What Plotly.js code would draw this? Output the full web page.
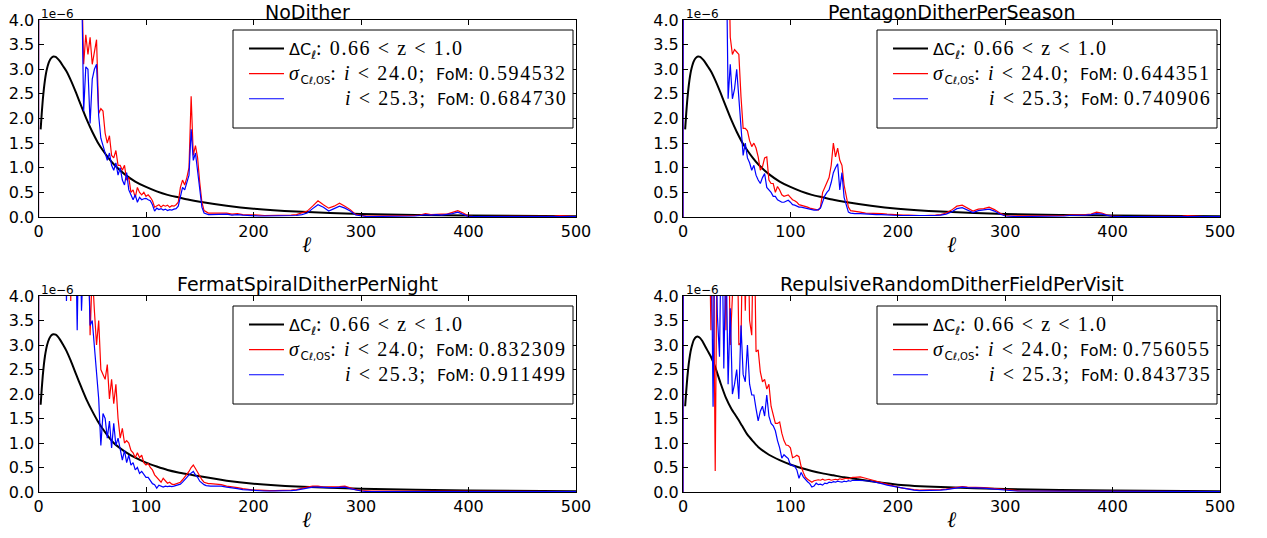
<!DOCTYPE html>
<html><head><meta charset="utf-8">
<script src="https://cdn.plot.ly/plotly-3.0.1.min.js"></script>
<style>html,body{margin:0;padding:0;background:#fff;}</style>
</head><body>
<div id="chart" style="width:1267px;height:538px"></div>
<script>
const panelTitles = ["NoDither", "PentagonDitherPerSeason", "FermatSpiralDitherPerNight", "RepulsiveRandomDitherFieldPerVisit"];
const fomRed  = ["0.594532", "0.644351", "0.832309", "0.756055"];
const fomBlue = ["0.684730", "0.740906", "0.911499", "0.843735"];
const xTicks = [0, 100, 200, 300, 400, 500];
const yTicks = [0, 0.5, 1, 1.5, 2, 2.5, 3, 3.5, 4];

// multipole grid for the noisy curves (values in units of 1e-6)
const ellLow = [0, 1, 20,
  24, 26, 28, 30, 32, 34, 36, 38, 40, 42,
  44, 46, 48, 50, 52, 54, 56, 58, 60, 62,
  64, 66, 68, 70, 72, 74, 76, 78, 80, 82,
  84, 86, 88, 90, 92, 94, 96, 98, 100, 102,
  104, 106, 108, 110, 112, 114, 116, 118, 120, 122,
  124, 126, 128, 130, 132, 134, 136, 138, 140, 142,
  144, 146, 148, 150, 152, 154, 156, 158, 160];
const ellTail = [165, 170, 175, 180, 185, 190, 195, 200, 205, 210,
  215, 220, 225, 230, 235, 240, 245, 250, 255, 260,
  265, 270, 275, 280, 285, 290, 295, 300, 305, 310,
  315, 320, 325, 330, 335, 340, 345, 350, 355, 360,
  365, 370, 375, 380, 385, 390, 395, 400, 405, 410,
  415, 420, 425, 430, 435, 440, 445, 450, 455, 460,
  465, 470, 475, 480, 485, 490, 495, 500];

// black Delta C_ell curves
const ellBlack = [2, 3, 4, 5, 6, 7, 8, 10, 12, 14, 16, 18, 20, 23, 26, 30, 35, 40, 45, 50, 55, 60, 65, 70, 80, 90, 100, 110, 120, 130, 140, 150, 175, 200, 240, 300, 400, 500];
const dclTop = [1.78, 2.1, 2.38, 2.6, 2.78, 2.92, 3.02, 3.16, 3.23, 3.26, 3.25, 3.21, 3.16, 3.06, 2.96, 2.78, 2.52, 2.24, 1.97, 1.73, 1.52, 1.35, 1.2, 1.07, 0.87, 0.72, 0.61, 0.52, 0.45, 0.4, 0.35, 0.31, 0.23, 0.17, 0.11, 0.06, 0.03, 0.015];
const dclBL = [1.78, 2.1, 2.38, 2.6, 2.77, 2.9, 3.0, 3.13, 3.2, 3.22, 3.21, 3.17, 3.11, 3.0, 2.88, 2.68, 2.4, 2.13, 1.87, 1.65, 1.45, 1.28, 1.13, 1.0, 0.83, 0.7, 0.6, 0.52, 0.45, 0.4, 0.36, 0.32, 0.23, 0.17, 0.11, 0.065, 0.03, 0.015];
const dclBR = [1.75, 2.05, 2.33, 2.55, 2.72, 2.86, 2.96, 3.1, 3.16, 3.17, 3.14, 3.08, 3.0, 2.88, 2.76, 2.55, 2.22, 1.92, 1.7, 1.53, 1.35, 1.17, 1.04, 0.92, 0.76, 0.65, 0.56, 0.49, 0.43, 0.38, 0.34, 0.3, 0.22, 0.15, 0.1, 0.06, 0.03, 0.015];

// NoDither
const ndRedLow = [0, 30, 12,
  10, 9, 8, 7.5, 7, 6.5, 6, 5.5, 5, 3.1,
  3.7, 3.3, 3.65, 3.1, 3.4, 3.6, 2.1, 2.2, 2.15, 1.7,
  1.5, 1.65, 1.25, 1.2, 1.35, 1.05, 1.05, 0.95, 1.05, 0.75,
  0.8, 0.5, 0.55, 0.4, 0.6, 0.5, 0.45, 0.5, 0.42, 0.45,
  0.4, 0.33, 0.2, 0.22, 0.25, 0.2, 0.24, 0.22, 0.24, 0.2,
  0.23, 0.22, 0.25, 0.3, 0.6, 0.75, 0.65, 0.8, 1.0, 2.45,
  1.25, 1.45, 1.2, 0.7, 0.3, 0.13, 0.1, 0.08, 0.08];
const ndRedTail = [0.08, 0.07, 0.08, 0.06, 0.07, 0.05, 0.05, 0.04, 0.04, 0.03,
  0.03, 0.03, 0.03, 0.03, 0.04, 0.05, 0.08, 0.12, 0.22, 0.33,
  0.25, 0.18, 0.22, 0.28, 0.22, 0.15, 0.05, 0.03, 0.02, 0.02,
  0.02, 0.02, 0.02, 0.02, 0.02, 0.02, 0.03, 0.03, 0.04, 0.07,
  0.05, 0.06, 0.06, 0.06, 0.09, 0.13, 0.08, 0.02, 0.01, 0.01,
  0.01, 0.01, 0.01, 0.01, 0.01, 0.01, 0.01, 0.01, 0.01, 0.01,
  0.01, 0.02, 0.02, 0.02, 0.03, 0.02, 0.01, 0.01];
const ndBlueLow = [0, 30, 12,
  10, 9, 8, 7.5, 7, 6.5, 6, 5.5, 5, 2.15,
  3.05, 3.0, 1.9, 2.8, 3.0, 3.1, 2.05, 1.6, 1.45, 1.3,
  1.15, 1.3, 1.05, 0.95, 1.1, 0.85, 1.0, 0.75, 0.65, 0.9,
  0.55, 0.45, 0.35, 0.45, 0.3, 0.4, 0.35, 0.37, 0.38, 0.35,
  0.33, 0.25, 0.12, 0.18, 0.15, 0.17, 0.14, 0.16, 0.13, 0.15,
  0.14, 0.16, 0.17, 0.22, 0.45, 0.6, 0.55, 0.7, 0.85, 1.78,
  1.15, 1.3, 0.95, 0.6, 0.2, 0.08, 0.06, 0.05, 0.05];
const ndBlueTail = [0.05, 0.05, 0.06, 0.04, 0.05, 0.04, 0.03, 0.03, 0.02, 0.02,
  0.02, 0.02, 0.02, 0.02, 0.02, 0.03, 0.05, 0.08, 0.17, 0.25,
  0.2, 0.12, 0.17, 0.22, 0.18, 0.12, 0.04, 0.02, 0.01, 0.01,
  0.01, 0.01, 0.01, 0.01, 0.01, 0.01, 0.02, 0.02, 0.03, 0.05,
  0.04, 0.05, 0.04, 0.05, 0.07, 0.1, 0.06, 0.01, 0.01, 0.01,
  0.01, 0.01, 0.01, 0.01, 0.01, 0.01, 0.01, 0.01, 0.01, 0.01,
  0.01, 0.01, 0.02, 0.02, 0.02, 0.02, 0.01, 0.01];

// PentagonDitherPerSeason
const pdRedLow = [0, 30, 12,
  10, 9, 8, 7.5, 7, 6.5, 6, 5.5, 5, 6,
  3.65, 3.3, 3.4, 3.35, 3.3, 2.44, 1.8, 1.8, 1.75, 1.55,
  1.43, 1.5, 1.4, 1.22, 0.95, 1.02, 1.2, 1.22, 0.75, 0.68,
  0.68, 0.5, 0.62, 0.55, 0.45, 0.42, 0.43, 0.45, 0.4, 0.35,
  0.33, 0.3, 0.25, 0.24, 0.22, 0.21, 0.2, 0.18, 0.17, 0.16,
  0.15, 0.14, 0.2, 0.5, 0.6, 0.7, 0.8, 1.05, 1.5, 1.22,
  1.4, 1.15, 1.05, 0.65, 0.42, 0.2, 0.13, 0.12, 0.11];
const pdRedTail = [0.1, 0.08, 0.08, 0.07, 0.07, 0.06, 0.05, 0.05, 0.04, 0.04,
  0.03, 0.03, 0.03, 0.03, 0.04, 0.05, 0.08, 0.14, 0.22, 0.24,
  0.18, 0.12, 0.16, 0.17, 0.2, 0.15, 0.08, 0.03, 0.02, 0.02,
  0.02, 0.02, 0.02, 0.02, 0.02, 0.02, 0.02, 0.02, 0.03, 0.04,
  0.04, 0.04, 0.05, 0.06, 0.1, 0.08, 0.04, 0.02, 0.01, 0.01,
  0.01, 0.01, 0.01, 0.01, 0.01, 0.01, 0.01, 0.01, 0.01, 0.01,
  0.02, 0.03, 0.02, 0.01, 0.01, 0.01, 0.01, 0.01];
const pdBlueLow = [0, 30, 12,
  10, 9, 8, 7.5, 7, 6.5, 6, 5.5, 6, 2.4,
  3.1, 2.4, 2.6, 3.0, 2.4, 1.8, 1.25, 1.5, 1.2, 1.1,
  0.95, 1.05, 0.85, 0.75, 0.68, 0.8, 0.88, 0.6, 0.55, 0.5,
  0.42, 0.42, 0.35, 0.32, 0.3, 0.3, 0.32, 0.34, 0.3, 0.25,
  0.24, 0.22, 0.2, 0.2, 0.19, 0.17, 0.16, 0.15, 0.14, 0.14,
  0.14, 0.15, 0.18, 0.3, 0.43, 0.5, 0.55, 0.7, 0.9, 1.0,
  1.08, 0.55, 0.9, 0.4, 0.22, 0.1, 0.08, 0.07, 0.07];
const pdBlueTail = [0.07, 0.06, 0.06, 0.05, 0.05, 0.04, 0.04, 0.03, 0.03, 0.03,
  0.02, 0.02, 0.02, 0.02, 0.03, 0.04, 0.06, 0.1, 0.17, 0.19,
  0.14, 0.09, 0.13, 0.14, 0.16, 0.12, 0.06, 0.02, 0.01, 0.01,
  0.01, 0.01, 0.01, 0.01, 0.01, 0.01, 0.01, 0.01, 0.02, 0.03,
  0.03, 0.03, 0.04, 0.05, 0.07, 0.06, 0.03, 0.01, 0.01, 0.01,
  0.01, 0.01, 0.01, 0.01, 0.01, 0.01, 0.01, 0.01, 0.01, 0.01,
  0.01, 0.02, 0.01, 0.01, 0.01, 0.01, 0.01, 0.01];

// FermatSpiralDitherPerNight
const fsRedLow = [0, 30, 12,
  10, 9, 8, 3.9, 7, 6.5, 6, 5.5, 5, 6,
  6, 6, 3.2, 4.5, 3.7, 3.0, 3.5, 2.5, 2.4, 2.3,
  2.6, 1.9, 2.3, 1.8, 2.2, 1.5, 1.1, 1.3, 1.0, 1.05,
  1.0, 0.85, 0.8, 0.7, 0.8, 0.7, 0.75, 0.6, 0.55, 0.58,
  0.5, 0.45, 0.35, 0.3, 0.25, 0.2, 0.28, 0.22, 0.18, 0.2,
  0.16, 0.15, 0.17, 0.18, 0.2, 0.25, 0.3, 0.35, 0.42, 0.5,
  0.55, 0.48, 0.4, 0.32, 0.25, 0.2, 0.18, 0.17, 0.17];
const fsRedTail = [0.16, 0.15, 0.12, 0.11, 0.09, 0.07, 0.05, 0.04, 0.04, 0.03,
  0.03, 0.03, 0.03, 0.03, 0.04, 0.05, 0.08, 0.1, 0.12, 0.12,
  0.1, 0.1, 0.1, 0.11, 0.12, 0.08, 0.05, 0.03, 0.02, 0.02,
  0.02, 0.02, 0.02, 0.02, 0.02, 0.02, 0.02, 0.02, 0.02, 0.02,
  0.02, 0.02, 0.02, 0.02, 0.02, 0.01, 0.01, 0.01, 0.01, 0.01,
  0.01, 0.01, 0.01, 0.01, 0.01, 0.01, 0.01, 0.01, 0.01, 0.01,
  0.01, 0.01, 0.01, 0.01, 0.01, 0.01, 0.01, 0.01];
const fsBlueLow = [0, 30, 12,
  6, 3.9, 6, 6, 6, 6, 3.3, 6, 3.7, 6,
  6, 5, 3.4, 3.5, 2.9, 2.3, 1.9, 0.95, 1.6, 1.5,
  1.1, 1.45, 0.9, 1.4, 0.95, 1.1, 0.85, 0.65, 0.85, 0.6,
  0.75, 0.55, 0.6, 0.45, 0.5, 0.38, 0.42, 0.35, 0.3, 0.3,
  0.22, 0.17, 0.15, 0.08, 0.14, 0.12, 0.1, 0.12, 0.11, 0.12,
  0.11, 0.12, 0.13, 0.14, 0.16, 0.2, 0.24, 0.3, 0.35, 0.38,
  0.42, 0.35, 0.3, 0.22, 0.18, 0.15, 0.13, 0.12, 0.12];
const fsBlueTail = [0.12, 0.12, 0.1, 0.09, 0.07, 0.05, 0.04, 0.03, 0.03, 0.02,
  0.02, 0.02, 0.02, 0.02, 0.03, 0.04, 0.06, 0.08, 0.1, 0.1,
  0.09, 0.09, 0.09, 0.1, 0.1, 0.07, 0.04, 0.02, 0.01, 0.01,
  0.01, 0.01, 0.01, 0.01, 0.01, 0.01, 0.01, 0.01, 0.01, 0.01,
  0.01, 0.01, 0.01, 0.01, 0.01, 0.01, 0.01, 0.01, 0.01, 0.01,
  0.01, 0.01, 0.01, 0.01, 0.01, 0.01, 0.01, 0.01, 0.01, 0.01,
  0.01, 0.01, 0.01, 0.01, 0.01, 0.01, 0.01, 0.01];

// RepulsiveRandomDitherFieldPerVisit
const rrRedLow = [0, 30, 12,
  6, 3.3, 6, 0.43, 6, 6, 6, 6, 3.3, 6,
  3.0, 6, 6, 6, 3.0, 3.05, 6, 3.7, 6, 3.5,
  3.2, 6, 2.86, 2.9, 2.45, 2.25, 2.3, 2.1, 2.2, 1.75,
  1.6, 1.4, 1.4, 1.43, 1.2, 1.05, 0.96, 0.95, 0.9, 0.7,
  0.72, 0.75, 0.72, 0.52, 0.4, 0.3, 0.26, 0.23, 0.2, 0.23,
  0.24, 0.25, 0.24, 0.26, 0.24, 0.25, 0.26, 0.24, 0.25, 0.26,
  0.25, 0.27, 0.26, 0.27, 0.28, 0.27, 0.29, 0.3, 0.3];
const rrRedTail = [0.31, 0.28, 0.25, 0.22, 0.19, 0.15, 0.13, 0.1, 0.08, 0.06,
  0.05, 0.04, 0.04, 0.04, 0.04, 0.05, 0.06, 0.08, 0.1, 0.11,
  0.1, 0.1, 0.1, 0.09, 0.08, 0.07, 0.05, 0.04, 0.03, 0.03,
  0.02, 0.02, 0.02, 0.02, 0.02, 0.02, 0.02, 0.02, 0.02, 0.02,
  0.02, 0.02, 0.02, 0.02, 0.02, 0.01, 0.01, 0.01, 0.01, 0.01,
  0.01, 0.01, 0.01, 0.01, 0.01, 0.01, 0.01, 0.01, 0.01, 0.01,
  0.01, 0.01, 0.01, 0.01, 0.01, 0.01, 0.01, 0.01];
const rrBlueLow = [0, 30, 12,
  6, 6, 1.74, 6, 3.6, 2.76, 6, 2.52, 5, 2.2,
  3.75, 2.0, 2.2, 2.5, 1.9, 3.4, 2.4, 2.25, 3.0, 2.2,
  1.98, 1.98, 1.7, 1.45, 1.65, 1.75, 1.55, 1.98, 1.55, 1.4,
  1.35, 1.25, 1.05, 0.9, 0.69, 0.76, 0.72, 0.68, 0.55, 0.55,
  0.52, 0.45, 0.28, 0.4, 0.31, 0.25, 0.21, 0.17, 0.1, 0.12,
  0.18, 0.15, 0.16, 0.14, 0.18, 0.17, 0.2, 0.19, 0.21, 0.2,
  0.22, 0.21, 0.2, 0.22, 0.21, 0.23, 0.22, 0.24, 0.24];
const rrBlueTail = [0.24, 0.23, 0.22, 0.2, 0.17, 0.14, 0.12, 0.09, 0.07, 0.05,
  0.04, 0.03, 0.03, 0.03, 0.04, 0.04, 0.05, 0.07, 0.09, 0.1,
  0.09, 0.09, 0.09, 0.08, 0.07, 0.06, 0.04, 0.03, 0.02, 0.02,
  0.02, 0.02, 0.02, 0.02, 0.02, 0.01, 0.01, 0.01, 0.01, 0.01,
  0.01, 0.01, 0.01, 0.01, 0.01, 0.01, 0.01, 0.01, 0.01, 0.01,
  0.01, 0.01, 0.01, 0.01, 0.01, 0.01, 0.01, 0.01, 0.01, 0.01,
  0.01, 0.01, 0.01, 0.01, 0.01, 0.01, 0.01, 0.01];

const blackSeries = [dclTop, dclTop, dclBL, dclBR];
const redSeries = [ndRedLow.concat(ndRedTail), pdRedLow.concat(pdRedTail), fsRedLow.concat(fsRedTail), rrRedLow.concat(rrRedTail)];
const blueSeries = [ndBlueLow.concat(ndBlueTail), pdBlueLow.concat(pdBlueTail), fsBlueLow.concat(fsBlueTail), rrBlueLow.concat(rrBlueTail)];
const ellNoise = ellLow.concat(ellTail);

// ---- layout geometry (pixels in a 1267x538 canvas) ----
const W = 1267, H = 538;
const px = v => v / W, py = v => 1 - v / H;
const xDom = [[38.5, 576], [683, 1220], [38.5, 576], [683, 1220]];
const yDom = [[20, 217], [20, 217], [296, 492], [296, 492]];
const legBox = [[233, 30, 573, 128], [877, 30, 1217, 128], [233, 306, 573, 404], [877, 306, 1217, 404]];

const SERIF = 'Liberation Serif';
const SANS = 'DejaVu Sans';
const sp = (t) => '<span style="font-family:' + SERIF + ';font-size:20px;letter-spacing:1.6px">' + t + '</span>';
const ss = (t) => '<span style="font-size:16px">' + t + '</span>';
const labBlack = ss('ΔC') + '<sub><i>ℓ</i></sub>' + sp(':&nbsp;0.66&nbsp;&lt;&nbsp;z&nbsp;&lt;&nbsp;1.0');
const labRed = f => sp('<i>σ</i>') + '<sub>C<span style="font-size:10px">ℓ,OS</span></sub>' + sp(':&nbsp;<i>i</i>&nbsp;&lt;&nbsp;24.0;') + ss('&nbsp;&nbsp;FoM:&nbsp;') + sp(f);
const labBlue = f => ss('&nbsp;&nbsp;&nbsp;&nbsp;&nbsp;&nbsp;&nbsp;&nbsp;&nbsp;&nbsp;&nbsp;') + sp('<i>i</i>&nbsp;&lt;&nbsp;25.3;') + ss('&nbsp;&nbsp;FoM:&nbsp;') + sp(f);

const traces = [];
const layout = {
  width: W, height: H,
  margin: {l: 0, r: 0, t: 0, b: 0},
  paper_bgcolor: '#fff', plot_bgcolor: '#fff',
  font: {family: SANS, size: 16, color: '#000'},
  showlegend: true,
  annotations: [],
  shapes: []
};

for (let i = 0; i < 4; i++) {
  const sfx = i === 0 ? '' : String(i + 1);
  const xa = 'x' + sfx, ya = 'y' + sfx;
  const lg = i === 0 ? 'legend' : 'legend' + (i + 1);
  traces.push({x: ellBlack, y: blackSeries[i], xaxis: xa, yaxis: ya, mode: 'lines', type: 'scatter',
    line: {color: '#000000', width: 2, shape: 'spline', smoothing: 0.6}, name: labBlack, legend: lg, hoverinfo: 'skip'});
  traces.push({x: ellNoise, y: redSeries[i], xaxis: xa, yaxis: ya, mode: 'lines', type: 'scatter',
    line: {color: '#ff0000', width: 1.2}, name: labRed(fomRed[i]), legend: lg, hoverinfo: 'skip'});
  traces.push({x: ellNoise, y: blueSeries[i], xaxis: xa, yaxis: ya, mode: 'lines', type: 'scatter',
    line: {color: '#0000ff', width: 1.2}, name: labBlue(fomBlue[i]), legend: lg, hoverinfo: 'skip'});

  const axCommon = {showline: true, linecolor: '#000', linewidth: 1, mirror: 'ticks', ticks: 'inside',
    ticklen: 5, tickcolor: '#000', showgrid: false, zeroline: false, fixedrange: true, automargin: false,
    tickfont: {family: SANS, size: 16, color: '#000'}};
  layout['xaxis' + sfx] = Object.assign({}, axCommon, {
    domain: [px(xDom[i][0]), px(xDom[i][1])], anchor: ya, range: [0, 500],
    tickmode: 'array', tickvals: xTicks, ticktext: xTicks.map(String)});
  layout['yaxis' + sfx] = Object.assign({}, axCommon, {
    domain: [py(yDom[i][1]), py(yDom[i][0])], anchor: xa, range: [0, 4],
    tickmode: 'array', tickvals: yTicks, ticktext: yTicks.map(v => v.toFixed(1))});

  const b = legBox[i];
  layout.shapes.push({type: 'rect', xref: 'paper', yref: 'paper', layer: 'above',
    x0: px(b[0]), x1: px(b[2]), y0: py(b[3]), y1: py(b[1]),
    line: {color: '#000', width: 1}, fillcolor: '#ffffff'});
  layout[lg] = {
    x: px(b[0] + 11), y: py(b[1] + 1), xanchor: 'left', yanchor: 'top',
    bgcolor: 'rgba(0,0,0,0)', borderwidth: 0,
    font: {family: SANS, size: 17, color: '#000'}, itemwidth: 35, tracegroupgap: 0
  };

  const xc = px((xDom[i][0] + xDom[i][1]) / 2);
  layout.annotations.push({text: panelTitles[i], x: xc, y: i < 2 ? 1 : py(yDom[i][0] - 24), xref: 'paper', yref: 'paper',
    xanchor: 'center', yanchor: 'top', borderpad: 0, showarrow: false, font: {family: SANS, size: 19, color: '#000'}});
  layout.annotations.push({text: '1e−6', x: px(xDom[i][0] + 0.5), y: py(yDom[i][0] - 6), xref: 'paper', yref: 'paper',
    xanchor: 'left', yanchor: 'middle', showarrow: false, font: {family: SANS, size: 12, color: '#000'}});
  layout.annotations.push({text: '<i>ℓ</i>', x: xc, y: py(yDom[i][1] + 27), xref: 'paper', yref: 'paper',
    xanchor: 'center', yanchor: 'middle', showarrow: false, font: {family: SERIF, size: 22, color: '#000'}});
}

Plotly.newPlot('chart', traces, layout, {displayModeBar: false, staticPlot: true});
</script>
</body></html>
